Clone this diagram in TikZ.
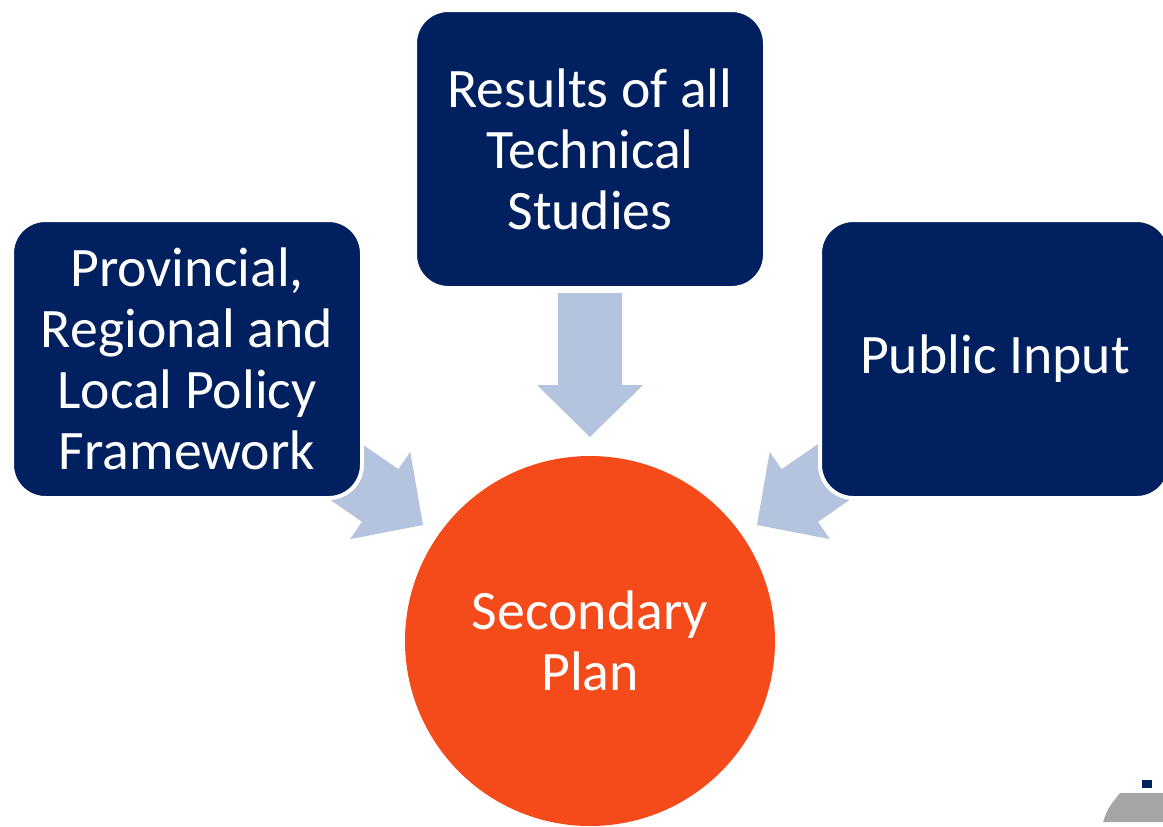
\documentclass[tikz,border=0pt]{standalone}
\usepackage{fontspec}
\setmainfont{Carlito}
\definecolor{navy}{HTML}{002060}
\definecolor{planorange}{HTML}{F54B1A}
\definecolor{arrowblue}{HTML}{B4C3DE}
\definecolor{logogray}{HTML}{A6A6A6}

% block arrow, tip at #1, pointing along angle #2
\newcommand{\blockarrow}[2]{%
  \fill[arrowblue, shift={(#1)}, rotate=#2]
    (0,0) -- (-52,53) -- (-52,32) -- (-144,32) -- (-144,-32) -- (-52,-32) -- (-52,-53) -- cycle;}

\begin{document}
\begin{tikzpicture}[x=0.75pt,y=-0.75pt]
\tikzstyle{source}=[rectangle,rounded corners=25,fill=navy,draw=white,line width=3,
  minimum width=350*0.75pt,minimum height=278*0.75pt,inner sep=0pt,text=white,
  align=center,font=\fontsize{41.8}{45.75}\selectfont]
\tikzstyle{plan}=[circle,fill=planorange,minimum size=370*0.75pt,inner sep=0pt,text=white,
  align=center,font=\fontsize{41.8}{45.75}\selectfont]

\clip (0,0) rectangle (1163,826);
\fill[white] (0,0) rectangle (1163,826);

% arrows into the plan
\coordinate (tipL) at (423,525);
\coordinate (tipT) at (590,437);
\coordinate (tipR) at (757,525);
\blockarrow{tipL}{-34.6}
\blockarrow{tipT}{-90}
\blockarrow{tipR}{-145.4}

\node[source] (policy)  at (187,359) {Provincial,\\Regional and\\Local Policy\\Framework};
\node[source] (studies) at (590,149) {Results of all\\Technical\\Studies};
\node[source] (public)  at (995,359) {Public Input};

\node[plan] (secplan) at (590,641) {Secondary\\Plan};

% corner of a logo
\fill[navy] (1142,780) rectangle (1152,788);
\fill[logogray] (1120,793) -- (1163,793) -- (1163,822) -- (1103,822)
  .. controls (1108,808) .. (1120,793) -- cycle;

\end{tikzpicture}
\end{document}
